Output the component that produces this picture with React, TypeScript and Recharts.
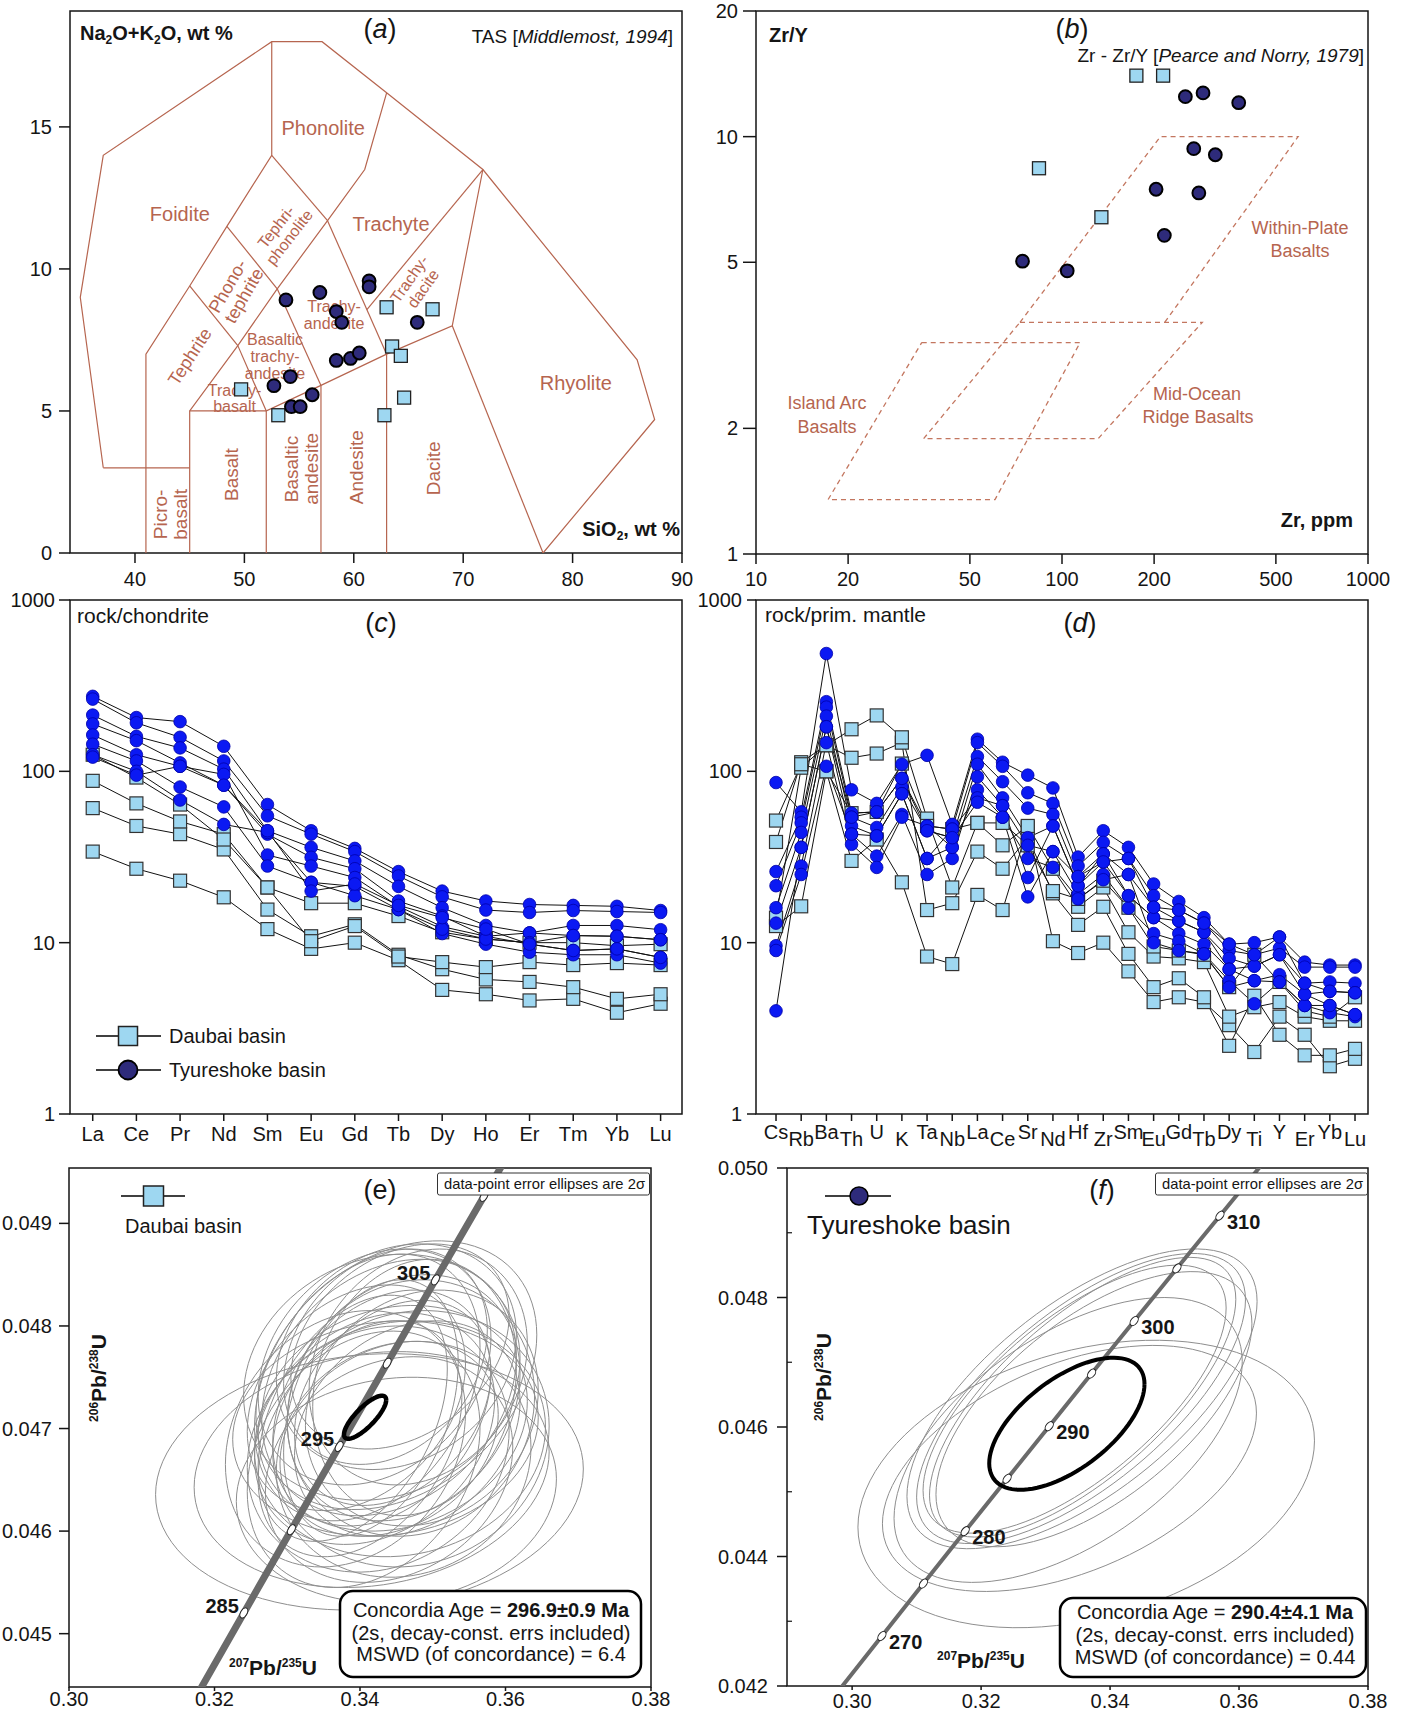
import React from 'react';
import { ScatterChart, Scatter, LineChart, Line, XAxis, YAxis, ReferenceArea } from 'recharts';

const PAGE_W = 1410;
const PAGE_H = 1714;
const FONT = '"Liberation Sans", Arial, Helvetica, sans-serif';
const INK = '#151515';
const FIELD = '#b6654f';
const SQ_FILL = '#9ed7f1';
const NAVY = '#2e2b7b';
const BLUE = '#0b19f3';
const ELL = '#8e8e8e';
const CONC = '#6a6a6a';

// plot rectangles on the page
const BOX_A = { l: 70, t: 11, r: 682, b: 553 };
const BOX_B = { l: 756, t: 11, r: 1368, b: 554 };
const BOX_C = { l: 70, t: 600, r: 682, b: 1114 };
const BOX_D = { l: 756, t: 600, r: 1368, b: 1114 };
const BOX_E = { l: 69, t: 1168, r: 651, b: 1687 };
const BOX_F = { l: 787, t: 1168, r: 1368, b: 1686 };
const Y_W = 60;
const X_H = 20;
const marginFor = (b: any) => ({ left: b.l - Y_W, top: b.t, right: PAGE_W - b.r, bottom: PAGE_H - b.b - X_H });

// ---------- (a) TAS ----------
const A_X = [34.06, 90];
const A_Y = [0, 19.08];
const A_XT = [40, 50, 60, 70, 80, 90];
const A_YT = [0, 5, 10, 15];
const tasDaubaiSiO2 = [49.7, 53.1, 63.0, 67.2, 63.5, 64.3, 64.6, 62.8];
const tasDaubaiAlk = [5.76, 4.85, 8.65, 8.58, 7.27, 6.94, 5.47, 4.85];
const tasTyurSiO2 = [53.8, 56.9, 58.4, 58.9, 61.4, 61.4, 65.8, 58.4, 59.7, 60.5, 54.2, 52.7, 56.2, 54.3, 55.1];
const tasTyurAlk = [8.91, 9.17, 8.5, 8.12, 9.58, 9.37, 8.12, 6.78, 6.85, 7.04, 6.21, 5.89, 5.57, 5.15, 5.15];
const tasFieldLines = [
  [[37.1, 3], [35, 9], [37.1, 14], [52.5, 18], [57.1, 18], [63, 16.2], [71.8, 13.5], [85.9, 6.8], [87.5, 4.7], [77.3, 0]],
  [[37.1, 3], [45, 3]],
  [[41, 0], [41, 7], [45, 9.4], [48.4, 11.5], [52.5, 14], [52.5, 18]],
  [[45, 0], [45, 5], [49.4, 7.3], [53, 9.3], [57.6, 11.7], [61, 13.5], [63, 16.2]],
  [[52, 0], [52, 5], [57, 5.9], [63, 7], [69, 8], [71.8, 13.5]],
  [[57, 0], [57, 5.9]],
  [[63, 0], [63, 7]],
  [[69, 8], [77.3, 0]],
  [[45, 5], [52, 5]],
  [[49.4, 7.3], [52, 5]],
  [[45, 9.4], [49.4, 7.3]],
  [[48.4, 11.5], [53, 9.3]],
  [[53, 9.3], [57, 5.9]],
  [[52.5, 14], [57.6, 11.7]],
  [[57.6, 11.7], [63, 7]],
  [[61.2, 8.57], [71.8, 13.5]],
];
const tasFieldNames = [
  { lines: ['Phonolite'], x: 57.2, y: 14.96, angle: 0, size: 20 },
  { lines: ['Foidite'], x: 44.1, y: 11.94, angle: 0, size: 20 },
  { lines: ['Trachyte'], x: 63.4, y: 11.57, angle: 0, size: 20 },
  { lines: ['Rhyolite'], x: 80.3, y: 5.97, angle: 0, size: 20 },
  { lines: ['Tephri-', 'phonolite'], x: 53.5, y: 11.3, angle: -52, size: 16 },
  { lines: ['Phono-', 'tephrite'], x: 49.2, y: 9.23, angle: -60, size: 18 },
  { lines: ['Tephrite'], x: 45.0, y: 6.92, angle: -57, size: 18 },
  { lines: ['Trachy-', 'andesite'], x: 58.2, y: 8.39, angle: 0, size: 16 },
  { lines: ['Basaltic', 'trachy-', 'andesite'], x: 52.8, y: 6.93, angle: 0, size: 16 },
  { lines: ['Trachy-', 'basalt'], x: 49.1, y: 5.44, angle: 0, size: 16 },
  { lines: ['Trachy-', 'dacite'], x: 65.7, y: 9.48, angle: -55, size: 16 },
  { lines: ['Picro-', 'basalt'], x: 43.2, y: 1.36, angle: -90, size: 19 },
  { lines: ['Basalt'], x: 48.8, y: 2.76, angle: -90, size: 19 },
  { lines: ['Basaltic', 'andesite'], x: 55.2, y: 2.96, angle: -90, size: 19 },
  { lines: ['Andesite'], x: 60.2, y: 3.02, angle: -90, size: 19 },
  { lines: ['Dacite'], x: 67.3, y: 2.98, angle: -90, size: 19 },
];

// ---------- (b) Zr vs Zr/Y ----------
const B_X = [10, 1000];
const B_Y = [1, 20];
const B_XT = [10, 20, 50, 100, 200, 500, 1000];
const B_YT = [1, 2, 5, 10, 20];
const zrDaubai = [175, 214, 84.1, 134.5];
const zrYDaubai = [14.0, 14.0, 8.4, 6.41];
const zrTyur = [253, 289, 378, 269.5, 317, 203, 280, 216, 74.3, 104];
const zrYTyur = [12.47, 12.73, 12.06, 9.36, 9.05, 7.48, 7.33, 5.8, 5.03, 4.77];
const withinPlateField = [[72.9, 3.59], [209.6, 10], [591, 10], [216.7, 3.59]];
const morbField = [[72.9, 3.59], [287.4, 3.59], [131.3, 1.89], [35.3, 1.89], [72.9, 3.59]];
const islandArcField = [[34.8, 3.21], [114.6, 3.21], [60.4, 1.35], [17.2, 1.35], [34.8, 3.21]];

// ---------- (c) REE, chondrite-normalised ----------
const REE = ['La', 'Ce', 'Pr', 'Nd', 'Sm', 'Eu', 'Gd', 'Tb', 'Dy', 'Ho', 'Er', 'Tm', 'Yb', 'Lu'];
const C_X = [-0.52, 13.49];
const LOG_Y = [1, 1000];
const LOG_YT = [1, 10, 100, 1000];
const reeDaubai = [
  [34, 27, 23, 18.4, 12, 9.2, 10, 7.9, 5.3, 5.0, 4.6, 4.7, 3.9, 4.4],
  [61, 48, 43, 35, 15.6, 10.9, 12.8, 8.5, 7.0, 6.1, 5.9, 5.5, 4.7, 5.0],
  [88, 65, 51, 43, 21, 17, 17, 14.3, 11.5, 10.5, 10, 10, 9.6, 9.8],
  [125, 92, 64, 40, 21, 10.2, 12.5, 8.3, 7.7, 7.2, 7.7, 7.4, 7.6, 7.4],
];
const reeTyur = [
  [274, 206, 195, 140, 64, 45, 35.5, 26, 20, 17.5, 16.7, 16.5, 16.3, 15.4],
  [264, 192, 158, 115, 55, 43, 34, 24.5, 18.5, 15.5, 15, 15.4, 15.2, 15],
  [213, 160, 137, 103, 45, 36, 30, 21.3, 16, 12.6, 11.4, 12.6, 12.6, 11.9],
  [189, 151, 112, 83, 43, 31.5, 27, 17.5, 14.3, 10.9, 11.4, 11, 10.9, 10.4],
  [163, 125, 107, 96, 32.5, 28, 24, 16.3, 12.4, 10.9, 9.8, 9.0, 9.2, 8.2],
  [144, 115, 81, 62, 28, 22.5, 21.3, 15.6, 11.3, 9.8, 8.8, 8.5, 8.5, 7.6],
  [125, 100, 68, 49, 44, 22.5, 18.8, 15.6, 12, 10.5, 10, 11, 10.9, 10.4],
  [121, 95, 107, 83, 45, 20, 22, 16.5, 14, 12, 9.8, 9, 9.2, 8.2],
];

// ---------- (d) trace elements, primitive-mantle-normalised ----------
const SPIDER = ['Cs', 'Rb', 'Ba', 'Th', 'U', 'K', 'Ta', 'Nb', 'La', 'Ce', 'Sr', 'Nd', 'Hf', 'Zr', 'Sm', 'Eu', 'Gd', 'Tb', 'Dy', 'Ti', 'Y', 'Er', 'Yb', 'Lu'];
const D_X = [-0.795, 23.516];
const spiderDaubai = [
  [12.5, 16.3, 100, 30, 40, 22.5, 8.3, 7.5, 19, 15.5, 47, 10.2, 8.7, 10, 6.8, 4.5, 4.8, 4.5, 3.3, 2.3, 3.7, 2.9, 1.9, 2.1],
  [14, 105, 142, 120, 127, 147, 15.5, 17, 34, 27, 41, 19.4, 12.7, 16.2, 8.6, 5.5, 6.2, 4.8, 2.5, 4.9, 2.9, 2.2, 2.2, 2.4],
  [38.7, 113, 142, 176, 212, 158, 53, 21, 50, 37, 48, 27, 16.2, 21, 11.5, 8.3, 8.1, 7.7, 3.7, 4.2, 4.5, 3.7, 3.5, 3.5],
  [51.6, 110, 100, 57, 58, 111, 48, 46, 50, 50, 37, 20, 18, 23, 16, 9.5, 9, 8.5, 5.5, 8.5, 5.9, 4.0, 3.7, 4.8],
];
const spiderTyur = [
  [86, 58, 487, 78, 65, 110, 124, 49, 154, 113, 95, 80, 31.6, 45, 36, 22, 17.4, 14, 9.8, 10, 10.8, 7.7, 7.4, 7.4],
  [26, 54, 255, 57, 58, 91, 48, 46, 147, 107, 75, 65, 28, 38.5, 31, 18.8, 15.5, 13, 9.0, 8.5, 9.3, 7.2, 7.2, 7.2],
  [21.5, 50, 237, 54, 47, 81, 45, 41, 122, 87, 61, 56, 24.3, 33, 25, 16.1, 13.4, 11.5, 8.1, 7.3, 8.5, 5.8, 5.9, 5.8],
  [16, 44, 210, 48, 42, 74, 31, 36, 110, 70, 41, 48, 21.5, 29.6, 18.8, 14, 11.3, 9.8, 7.0, 6.0, 6.5, 5.0, 5.2, 5.1],
  [13, 36, 182, 43, 32, 56, 25, 31, 93, 63, 37, 34, 19.2, 25, 15.9, 11.3, 10.2, 8.6, 6.0, 4.4, 5.9, 4.3, 4.3, 3.8],
  [9.6, 28, 147, 37.5, 27.5, 54, 48, 36, 78, 54, 31, 27.5, 18, 23.3, 25, 10, 9, 8.6, 5.5, 6.0, 5.9, 4.3, 3.9, 3.7],
  [9.0, 25, 107, 43, 42, 74, 31, 46, 70, 63, 24, 48, 21.5, 33, 18.8, 14, 13.4, 11.5, 7.0, 7.3, 8.5, 5.0, 4.3, 3.8],
  [4.0, 36, 182, 54, 58, 91, 45, 41, 66, 54, 18.5, 34, 24.3, 29.6, 31, 16.1, 15.5, 13, 9.8, 8.5, 10.8, 5.8, 5.2, 5.1],
];

// ---------- (e), (f) U-Pb concordia ----------
const CONC_AGE = [265, 270, 275, 280, 285, 290, 295, 300, 305, 310, 315];
const CONC_X = [0.298209, 0.304617, 0.311057, 0.317529, 0.324033, 0.330569, 0.337136, 0.343739, 0.350371, 0.357038, 0.363736];
const CONC_Y = [0.041965, 0.042773, 0.043582, 0.044392, 0.045202, 0.046013, 0.046825, 0.047637, 0.04845, 0.049264, 0.050078];
const E_MARK_AGES = [285, 290, 295, 300, 305, 310];
const E_LABEL_AGES = [285, 295, 305];
const F_MARK_AGES = [270, 275, 280, 285, 290, 295, 300, 305, 310];
const F_LABEL_AGES = [270, 280, 290, 300, 310];
const E_X = [0.3, 0.38];
const E_Y = [0.04448, 0.04954];
const E_XT = [0.3, 0.32, 0.34, 0.36, 0.38];
const E_YT = [0.045, 0.046, 0.047, 0.048, 0.049];
const F_X = [0.2899, 0.38];
const F_Y = [0.042, 0.05];
const F_XT = [0.3, 0.32, 0.34, 0.36, 0.38];
const F_YT = [0.042, 0.044, 0.046, 0.048, 0.05];
const F_YMINOR = [0.043, 0.045, 0.047, 0.049];

// error ellipses: [207Pb/235U, 206Pb/238U, half-width x, half-width y, rho]
const daubaiEllipses = [
  [0.3413, 0.04648, 0.0294, 0.00125, 0.1],
  [0.3416, 0.0466, 0.0244, 0.00115, 0.15],
  [0.345, 0.04752, 0.0193, 0.00131, 0.3],
  [0.344, 0.0474, 0.0175, 0.00125, 0.25],
  [0.346, 0.0473, 0.016, 0.0012, 0.2],
  [0.343, 0.0472, 0.015, 0.00115, 0.3],
  [0.342, 0.047, 0.0165, 0.00113, 0.25],
  [0.3445, 0.0471, 0.0185, 0.0011, 0.15],
  [0.347, 0.0472, 0.017, 0.00125, 0.1],
  [0.34, 0.0469, 0.014, 0.00115, 0.35],
  [0.341, 0.0474, 0.0155, 0.0013, 0.3],
  [0.348, 0.0476, 0.015, 0.00115, 0.2],
  [0.3435, 0.0477, 0.014, 0.00105, 0.25],
  [0.3455, 0.0469, 0.02, 0.00115, 0.1],
  [0.3425, 0.0468, 0.018, 0.0012, 0.15],
  [0.3465, 0.047, 0.0155, 0.00105, 0.25],
  [0.339, 0.0471, 0.013, 0.0012, 0.4],
  [0.345, 0.0477, 0.0165, 0.0011, 0.2],
  [0.344, 0.0466, 0.017, 0.0011, 0.2],
  [0.3475, 0.0474, 0.014, 0.00125, 0.15],
  [0.3415, 0.0472, 0.012, 0.00125, 0.35],
  [0.343, 0.0475, 0.019, 0.0012, 0.15],
  [0.346, 0.0467, 0.0175, 0.00115, 0.1],
  [0.3395, 0.0473, 0.015, 0.0011, 0.3],
  [0.3445, 0.04725, 0.0135, 0.001, 0.3],
  [0.342, 0.0476, 0.016, 0.00115, 0.25],
  [0.347, 0.0469, 0.019, 0.00125, 0.1],
  [0.3435, 0.047, 0.021, 0.00105, 0.1],
  [0.3405, 0.0467, 0.016, 0.00125, 0.25],
  [0.3485, 0.0472, 0.016, 0.00115, 0.15],
  [0.345, 0.0464, 0.022, 0.0011, 0.1],
  [0.338, 0.0469, 0.0165, 0.00125, 0.2],
  [0.3455, 0.0478, 0.015, 0.001, 0.3],
  [0.344, 0.0469, 0.015, 0.00095, 0.25],
];
const daubaiMean = [0.3407, 0.04711, 0.0029, 0.00021, 0.8];
const tyurEllipses = [
  [0.3363, 0.04512, 0.0354, 0.00222, 0.3],
  [0.3337, 0.04536, 0.029, 0.0019, 0.45],
  [0.33565, 0.046435, 0.02715, 0.002315, 0.65],
  [0.3355, 0.04644, 0.0255, 0.00224, 0.68],
  [0.33575, 0.04646, 0.02375, 0.00216, 0.7],
  [0.3345, 0.04643, 0.0235, 0.00207, 0.68],
  [0.3375, 0.046275, 0.0245, 0.002125, 0.62],
  [0.3335, 0.0458, 0.027, 0.0022, 0.55],
];
const tyurMean = [0.3333, 0.04605, 0.01204, 0.00102, 0.6];

// ---------- helpers ----------
const xy = (xs: number[], ys: number[]) => xs.map((x, i) => ({ x, y: ys[i] }));
const poly = (line: number[][]) => line.map(([x, y]) => ({ x, y }));
function ellipsePoints(e: number[], n = 96) {
  const [cx, cy, ax, ay, rho] = e;
  const s = Math.sqrt(1 - rho * rho);
  const out: { x: number; y: number }[] = [];
  for (let k = 0; k <= n; k++) {
    const t = (2 * Math.PI * k) / n;
    out.push({ x: cx + ax * Math.cos(t), y: cy + ay * (rho * Math.cos(t) + s * Math.sin(t)) });
  }
  return out;
}
const concPts = CONC_AGE.map((age, i) => ({ x: CONC_X[i], y: CONC_Y[i], age }));

const LAYER: React.CSSProperties = { position: 'absolute', left: 0, top: 0 };
const TICK = { fontSize: 20, fill: INK, fontFamily: FONT };
const TL = { stroke: INK, strokeWidth: 1.5 };

const NoMark = () => <g />;
const SquareMark = (p: any) => (
  <rect x={p.cx - 6.5} y={p.cy - 6.5} width={13} height={13} fill={SQ_FILL} stroke="#222" strokeWidth={1.3} />
);
const NavyBall = (p: any) => <circle cx={p.cx} cy={p.cy} r={6.4} fill={NAVY} stroke="#000" strokeWidth={2} />;

const FieldText = (p: any) => {
  const { cx, cy, payload } = p;
  const { lines, angle, size } = payload;
  const lh = size * 1.05;
  const y0 = cy - ((lines.length - 1) * lh) / 2;
  return (
    <text transform={`rotate(${angle} ${cx} ${cy})`} textAnchor="middle" fontFamily={FONT} fontSize={size} fill={FIELD}>
      {lines.map((l: string, i: number) => (
        <tspan key={i} x={cx} y={y0 + i * lh} dy="0.35em">{l}</tspan>
      ))}
    </text>
  );
};

const AgeMarkE = (p: any) => {
  const { cx, cy, payload } = p;
  return (
    <g>
      <ellipse cx={cx} cy={cy} rx={3.2} ry={5.5} transform={`rotate(30 ${cx} ${cy})`} fill="#fff" stroke="#222" strokeWidth={1} />
      {E_LABEL_AGES.includes(payload.age) && (
        <text x={cx - 5} y={cy} textAnchor="end" fontFamily={FONT} fontWeight="bold" fontSize={20} fill={INK}>{payload.age}</text>
      )}
    </g>
  );
};
const AgeMarkF = (p: any) => {
  const { cx, cy, payload } = p;
  return (
    <g>
      <ellipse cx={cx} cy={cy} rx={3.2} ry={5.2} transform={`rotate(38 ${cx} ${cy})`} fill="#fff" stroke="#222" strokeWidth={1} />
      {F_LABEL_AGES.includes(payload.age) && (
        <text x={cx + 7} y={cy + 13} textAnchor="start" fontFamily={FONT} fontWeight="bold" fontSize={20} fill={INK}>{payload.age}</text>
      )}
    </g>
  );
};
const MinorTickF = (p: any) => <line x1={p.cx} y1={p.cy} x2={p.cx + 5} y2={p.cy} stroke={INK} strokeWidth={1.2} />;

const sqDot = (p: any) => (
  <rect key={`${p.dataKey}-${p.index}`} x={p.cx - 6.5} y={p.cy - 6.5} width={13} height={13} fill={SQ_FILL} stroke="#333" strokeWidth={1.2} />
);
const blueDot = (p: any) => (
  <circle key={`${p.dataKey}-${p.index}`} cx={p.cx} cy={p.cy} r={6.3} fill={BLUE} stroke="#0000a8" strokeWidth={0.8} />
);

const frame = (x: number[], y: number[]) => (
  <ReferenceArea x1={x[0]} x2={x[1]} y1={y[0]} y2={y[1]} fill="none" stroke={INK} strokeWidth={1.5} ifOverflow="visible" />
);

// ---------- panels ----------
function PanelA() {
  return (
    <div style={LAYER}>
      <ScatterChart width={PAGE_W} height={PAGE_H} margin={marginFor(BOX_A)}>
        <XAxis type="number" dataKey="x" domain={A_X} ticks={A_XT} allowDataOverflow interval={0} height={X_H} axisLine={false} tickSize={10} tickMargin={9} tickLine={TL} tick={TICK} />
        <YAxis type="number" dataKey="y" domain={A_Y} ticks={A_YT} allowDataOverflow interval={0} width={Y_W} axisLine={false} tickSize={11} tickMargin={7} tickLine={TL} tick={TICK} />
        {tasFieldLines.map((l, k) => (
          <Scatter key={`f${k}`} data={poly(l)} fill={FIELD} line={{ stroke: FIELD, strokeWidth: 1.2 }} lineType="joint" shape={NoMark} isAnimationActive={false} />
        ))}
        <Scatter data={tasFieldNames} shape={FieldText} isAnimationActive={false} />
        <Scatter data={xy(tasDaubaiSiO2, tasDaubaiAlk)} shape={SquareMark} isAnimationActive={false} />
        <Scatter data={xy(tasTyurSiO2, tasTyurAlk)} shape={NavyBall} isAnimationActive={false} />
        {frame(A_X, A_Y)}
      </ScatterChart>
    </div>
  );
}

function PanelB() {
  const dash = { stroke: '#c3765f', strokeWidth: 1.3, strokeDasharray: '5 4' };
  return (
    <div style={LAYER}>
      <ScatterChart width={PAGE_W} height={PAGE_H} margin={marginFor(BOX_B)}>
        <XAxis type="number" scale="log" dataKey="x" domain={B_X} ticks={B_XT} allowDataOverflow interval={0} height={X_H} axisLine={false} tickSize={10} tickMargin={8} tickLine={TL} tick={TICK} />
        <YAxis type="number" scale="log" dataKey="y" domain={B_Y} ticks={B_YT} allowDataOverflow interval={0} width={Y_W} axisLine={false} tickSize={13} tickMargin={5} tickLine={TL} tick={TICK} />
        <Scatter data={poly(withinPlateField)} fill="#c3765f" line={dash} lineType="joint" shape={NoMark} isAnimationActive={false} />
        <Scatter data={poly(morbField)} fill="#c3765f" line={dash} lineType="joint" shape={NoMark} isAnimationActive={false} />
        <Scatter data={poly(islandArcField)} fill="#c3765f" line={dash} lineType="joint" shape={NoMark} isAnimationActive={false} />
        <Scatter data={xy(zrDaubai, zrYDaubai)} shape={SquareMark} isAnimationActive={false} />
        <Scatter data={xy(zrTyur, zrYTyur)} shape={NavyBall} isAnimationActive={false} />
        {frame(B_X, B_Y)}
      </ScatterChart>
    </div>
  );
}

const reeRows = REE.map((el, i) => {
  const row: any = { i, el };
  reeDaubai.forEach((s, k) => (row[`d${k}`] = s[i]));
  reeTyur.forEach((s, k) => (row[`t${k}`] = s[i]));
  return row;
});
const spiderRows = SPIDER.map((el, i) => {
  const row: any = { i, el };
  spiderDaubai.forEach((s, k) => (row[`d${k}`] = s[i]));
  spiderTyur.forEach((s, k) => (row[`t${k}`] = s[i]));
  return row;
});

function PanelC() {
  return (
    <div style={LAYER}>
      <LineChart width={PAGE_W} height={PAGE_H} margin={marginFor(BOX_C)} data={reeRows}>
        <XAxis type="number" dataKey="i" domain={C_X} ticks={REE.map((_, i) => i)} allowDataOverflow interval={0} height={X_H} axisLine={false} tickSize={7} tickMargin={6} tickLine={TL} tick={TICK} tickFormatter={(v: number) => REE[v]} />
        <YAxis type="number" scale="log" domain={LOG_Y} ticks={LOG_YT} allowDataOverflow interval={0} width={Y_W} axisLine={false} tickSize={11} tickMargin={4} tickLine={TL} tick={TICK} />
        {reeDaubai.map((_, k) => (
          <Line key={`d${k}`} dataKey={`d${k}`} type="linear" stroke="#111" strokeWidth={1} dot={sqDot} activeDot={false} isAnimationActive={false} />
        ))}
        {reeTyur.map((_, k) => (
          <Line key={`t${k}`} dataKey={`t${k}`} type="linear" stroke="#111" strokeWidth={1} dot={blueDot} activeDot={false} isAnimationActive={false} />
        ))}
        {frame(C_X, LOG_Y)}
      </LineChart>
    </div>
  );
}

const StaggerTick = (p: any) => {
  const { x, y, payload } = p;
  const i = payload.value;
  return (
    <text x={x} y={y + (i % 2 ? 21 : 14)} textAnchor="middle" fontFamily={FONT} fontSize={20} fill={INK}>{SPIDER[i]}</text>
  );
};

function PanelD() {
  return (
    <div style={LAYER}>
      <LineChart width={PAGE_W} height={PAGE_H} margin={marginFor(BOX_D)} data={spiderRows}>
        <XAxis type="number" dataKey="i" domain={D_X} ticks={SPIDER.map((_, i) => i)} allowDataOverflow interval={0} height={X_H} axisLine={false} tickSize={7} tickMargin={4} tickLine={TL} tick={<StaggerTick />} />
        <YAxis type="number" scale="log" domain={LOG_Y} ticks={LOG_YT} allowDataOverflow interval={0} width={Y_W} axisLine={false} tickSize={9} tickMargin={5} tickLine={TL} tick={TICK} />
        {spiderDaubai.map((_, k) => (
          <Line key={`d${k}`} dataKey={`d${k}`} type="linear" stroke="#111" strokeWidth={1} dot={sqDot} activeDot={false} isAnimationActive={false} />
        ))}
        {spiderTyur.map((_, k) => (
          <Line key={`t${k}`} dataKey={`t${k}`} type="linear" stroke="#111" strokeWidth={1} dot={blueDot} activeDot={false} isAnimationActive={false} />
        ))}
        {frame(D_X, LOG_Y)}
      </LineChart>
    </div>
  );
}

function PanelE() {
  return (
    <div style={LAYER}>
      <ScatterChart width={PAGE_W} height={PAGE_H} margin={marginFor(BOX_E)}>
        <XAxis type="number" dataKey="x" domain={E_X} ticks={E_XT} allowDataOverflow interval={0} height={X_H} axisLine={false} tickSize={4} tickMargin={1} tickLine={TL} tick={TICK} tickFormatter={(v: number) => v.toFixed(2)} />
        <YAxis type="number" dataKey="y" domain={E_Y} ticks={E_YT} allowDataOverflow interval={0} width={Y_W} axisLine={false} tickSize={10} tickMargin={7} tickLine={TL} tick={TICK} tickFormatter={(v: number) => v.toFixed(3)} />
        {daubaiEllipses.map((e, k) => (
          <Scatter key={`e${k}`} data={ellipsePoints(e)} fill={ELL} line={{ stroke: ELL, strokeWidth: 1 }} lineType="joint" shape={NoMark} isAnimationActive={false} />
        ))}
        <Scatter data={concPts} fill={CONC} line={{ stroke: CONC, strokeWidth: 7 }} lineType="joint" shape={NoMark} isAnimationActive={false} />
        <Scatter data={ellipsePoints(daubaiMean)} fill="#000" line={{ stroke: '#000', strokeWidth: 4.5 }} lineType="joint" shape={NoMark} isAnimationActive={false} />
        <Scatter data={concPts.filter((p) => E_MARK_AGES.includes(p.age))} shape={AgeMarkE} isAnimationActive={false} />
        {frame(E_X, E_Y)}
      </ScatterChart>
    </div>
  );
}

function PanelF() {
  return (
    <div style={LAYER}>
      <ScatterChart width={PAGE_W} height={PAGE_H} margin={marginFor(BOX_F)}>
        <XAxis type="number" dataKey="x" domain={F_X} ticks={F_XT} allowDataOverflow interval={0} height={X_H} axisLine={false} tickSize={4} tickMargin={4} tickLine={TL} tick={TICK} tickFormatter={(v: number) => v.toFixed(2)} />
        <YAxis type="number" dataKey="y" domain={F_Y} ticks={F_YT} allowDataOverflow interval={0} width={Y_W} axisLine={false} tickSize={10} tickMargin={9} tickLine={TL} tick={TICK} tickFormatter={(v: number) => v.toFixed(3)} />
        {tyurEllipses.map((e, k) => (
          <Scatter key={`e${k}`} data={ellipsePoints(e)} fill={ELL} line={{ stroke: ELL, strokeWidth: 1 }} lineType="joint" shape={NoMark} isAnimationActive={false} />
        ))}
        <Scatter data={concPts} fill={CONC} line={{ stroke: CONC, strokeWidth: 4 }} lineType="joint" shape={NoMark} isAnimationActive={false} />
        <Scatter data={ellipsePoints(tyurMean)} fill="#000" line={{ stroke: '#000', strokeWidth: 4 }} lineType="joint" shape={NoMark} isAnimationActive={false} />
        <Scatter data={concPts.filter((p) => F_MARK_AGES.includes(p.age))} shape={AgeMarkF} isAnimationActive={false} />
        <Scatter data={F_YMINOR.map((y) => ({ x: F_X[0], y }))} shape={MinorTickF} isAnimationActive={false} />
        {frame(F_X, F_Y)}
      </ScatterChart>
    </div>
  );
}

// ---------- titles, legends, notes ----------
const SupLabel = ({ x, y, a, b, rotate }: any) => (
  <text x={x} y={y} textAnchor="middle" fontWeight="bold" fontSize={21} fill={INK} transform={rotate ? `rotate(-90 ${x} ${y})` : undefined}>
    <tspan fontSize={12} dy={-8}>{a}</tspan>
    <tspan dy={8}>Pb/</tspan>
    <tspan fontSize={12} dy={-8}>{b}</tspan>
    <tspan dy={8}>U</tspan>
  </text>
);

function Annotations() {
  return (
    <svg width={PAGE_W} height={PAGE_H} style={{ ...LAYER, pointerEvents: 'none' }} fontFamily={FONT}>
      {/* (a) */}
      <text x={80} y={40} fontWeight="bold" fontSize={20} fill={INK}>
        Na<tspan fontSize={12} dy={4}>2</tspan><tspan dy={-4}>O+K</tspan><tspan fontSize={12} dy={4}>2</tspan><tspan dy={-4}>O, wt %</tspan>
      </text>
      <text x={380} y={38} textAnchor="middle" fontSize={27} fill={INK}>(<tspan fontStyle="italic">a</tspan>)</text>
      <text x={673} y={43} textAnchor="end" fontSize={19} fill={INK}>TAS [<tspan fontStyle="italic">Middlemost, 1994</tspan>]</text>
      <text x={680} y={536} textAnchor="end" fontWeight="bold" fontSize={20} fill={INK}>
        SiO<tspan fontSize={12} dy={4}>2</tspan><tspan dy={-4}>, wt %</tspan>
      </text>

      {/* (b) */}
      <text x={769} y={42} fontWeight="bold" fontSize={20} fill={INK}>Zr/Y</text>
      <text x={1072} y={38} textAnchor="middle" fontSize={27} fill={INK}>(<tspan fontStyle="italic">b</tspan>)</text>
      <text x={1364} y={62} textAnchor="end" fontSize={19} fill={INK}>Zr - Zr/Y [<tspan fontStyle="italic">Pearce and Norry, 1979</tspan>]</text>
      <g fill={FIELD} fontSize={18} textAnchor="middle">
        <text x={1300} y={234}>Within-Plate</text>
        <text x={1300} y={257}>Basalts</text>
        <text x={827} y={409}>Island Arc</text>
        <text x={827} y={433}>Basalts</text>
        <text x={1197} y={400}>Mid-Ocean</text>
        <text x={1198} y={423}>Ridge Basalts</text>
      </g>
      <text x={1353} y={527} textAnchor="end" fontWeight="bold" fontSize={20} fill={INK}>Zr, ppm</text>

      {/* (c) */}
      <text x={77} y={623} fontSize={21} fill={INK}>rock/chondrite</text>
      <text x={381} y={632} textAnchor="middle" fontSize={27} fill={INK}>(<tspan fontStyle="italic">c</tspan>)</text>
      <line x1={96} y1={1036} x2={161} y2={1036} stroke="#000" strokeWidth={1.5} />
      <rect x={118.5} y={1026.5} width={19} height={19} fill={SQ_FILL} stroke="#222" strokeWidth={1.5} />
      <text x={169} y={1042.5} fontSize={20} fill={INK}>Daubai basin</text>
      <line x1={96} y1={1070} x2={161} y2={1070} stroke="#000" strokeWidth={1.5} />
      <circle cx={128} cy={1070} r={9.5} fill={NAVY} stroke="#000" strokeWidth={1.8} />
      <text x={169} y={1077} fontSize={20} fill={INK}>Tyureshoke basin</text>

      {/* (d) */}
      <text x={765} y={622} fontSize={21} fill={INK}>rock/prim. mantle</text>
      <text x={1080} y={632} textAnchor="middle" fontSize={27} fill={INK}>(<tspan fontStyle="italic">d</tspan>)</text>

      {/* (e) */}
      <line x1={121} y1={1196} x2={185} y2={1196} stroke="#000" strokeWidth={1.5} />
      <rect x={143.5} y={1186} width={20} height={20} fill={SQ_FILL} stroke="#222" strokeWidth={1.5} />
      <text x={125} y={1233} fontSize={20} fill={INK}>Daubai basin</text>
      <text x={380} y={1199} textAnchor="middle" fontSize={27} fill={INK}>(e)</text>
      <rect x={437.5} y={1173} width={212} height={22} rx={2} fill="#fff" stroke="#333" strokeWidth={1} />
      <text x={444} y={1189} fontSize={15} fill={INK} textLength={201} lengthAdjust="spacingAndGlyphs">data-point error ellipses are 2σ</text>
      <SupLabel x={106} y={1378} a="206" b="238" rotate />
      <SupLabel x={273} y={1675} a="207" b="235" />
      <rect x={340} y={1591} width={301} height={86} rx={13} fill="#fff" stroke="#000" strokeWidth={2.5} />
      <g fontSize={20} fill={INK} textAnchor="middle">
        <text x={491} y={1617}>Concordia Age = <tspan fontWeight="bold">296.9±0.9 Ma</tspan></text>
        <text x={491} y={1640}>(2s, decay-const. errs included)</text>
        <text x={491} y={1661}>MSWD (of concordance) = 6.4</text>
      </g>

      {/* (f) */}
      <line x1={825} y1={1196} x2={891} y2={1196} stroke="#000" strokeWidth={1.5} />
      <circle cx={859} cy={1196} r={9} fill={NAVY} stroke="#000" strokeWidth={1.5} />
      <text x={807} y={1234} fontSize={26} fill={INK}>Tyureshoke basin</text>
      <text x={1102} y={1199} textAnchor="middle" fontSize={27} fill={INK}>(<tspan fontStyle="italic">f</tspan>)</text>
      <rect x={1155.5} y={1173} width={212} height={22} rx={2} fill="#fff" stroke="#333" strokeWidth={1} />
      <text x={1162} y={1189} fontSize={15} fill={INK} textLength={201} lengthAdjust="spacingAndGlyphs">data-point error ellipses are 2σ</text>
      <SupLabel x={831} y={1377} a="206" b="238" rotate />
      <SupLabel x={981} y={1668} a="207" b="235" />
      <rect x={1060} y={1598} width={306} height={79} rx={13} fill="#fff" stroke="#000" strokeWidth={2.5} />
      <g fontSize={20} fill={INK} textAnchor="middle">
        <text x={1215} y={1619}>Concordia Age = <tspan fontWeight="bold">290.4±4.1 Ma</tspan></text>
        <text x={1215} y={1642}>(2s, decay-const. errs included)</text>
        <text x={1215} y={1664}>MSWD (of concordance) = 0.44</text>
      </g>
    </svg>
  );
}

export default function App() {
  return (
    <div style={{ position: 'absolute', left: 0, top: 0, width: PAGE_W, height: PAGE_H, background: '#fff', fontFamily: FONT }}>
      <PanelA />
      <PanelB />
      <PanelC />
      <PanelD />
      <PanelE />
      <PanelF />
      <Annotations />
    </div>
  );
}
